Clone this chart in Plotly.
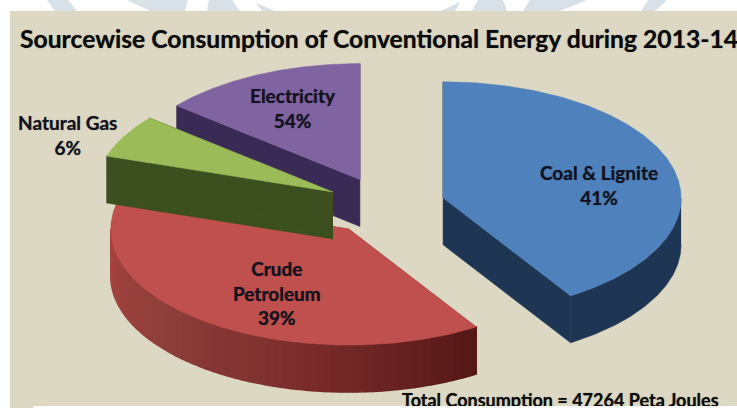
import numpy as np
import plotly.graph_objects as go

# ---------- data ----------
sources = ["Coal & Lignite", "Crude<br>Petroleum", "Natural Gas", "Electricity"]
shares = [41, 39, 6, 14]            # slice sizes
printed_pct = [41, 39, 6, 54]       # percentages printed on the chart
total_text = "Total Consumption = 47264 Peta Joules"
title_text = "Sourcewise Consumption of Conventional Energy during 2013-14"

# ---------- style ----------
W, H = 737, 408
CX, CY, RX, RY, DEPTH = 385.5, 206, 238, 116, 47
PULL = 0.252
top_colors = ["#4F81BD", "#C0504D", "#9BBB59", "#8064A2"]
side_colors = ["#1F3554", "#7A2B2A", "#3C4F1F", "#3A2A56"]
rim_ramps = [None, ("#A8423F", "#8E3F3B", "#7A2C2B", "#551918"), None, None]
label_xy = [(599, 185), (277, 293), (67, 135), (293, 108)]
BG = "#DDD8C3"
DRAW_ORDER = [1, 3, 2, 0]
watermark = [
    [(47, 0), (55, 11), (77, 11), (68, 0)],
    [(127, 0), (150, 11), (185, 11), (188, 0)],
    [(209, 0), (207, 11), (240, 11), (232, 0)],
    [(256, 3), (262, 11), (275, 11)],
    [(460, 2), (441, 11), (455, 11)],
    [(478, 0), (472, 11), (507, 11), (503, 0)],
    [(530, 0), (523, 11), (560, 11), (587, 0)],
    [(648, 0), (641, 11), (655, 11), (667, 0)],
]

fig = go.Figure()


def hex2rgb(h):
    return np.array([int(h[i:i + 2], 16) for i in (1, 3, 5)], float)


def ramp(cols, t):
    seg = min(int(t * (len(cols) - 1)), len(cols) - 2)
    f = t * (len(cols) - 1) - seg
    c = hex2rgb(cols[seg]) * (1 - f) + hex2rgb(cols[seg + 1]) * f
    return "rgb(%d,%d,%d)" % tuple(c)


def poly(x, y, color, lw=0.5):
    fig.add_trace(go.Scatter(x=list(x), y=list(y), mode="lines", fill="toself",
                             fillcolor=color, line=dict(color=color, width=lw),
                             hoverinfo="skip", showlegend=False))


# panel background
poly([10, W, W, 10], [11, 11, H, H], BG, 0)
for p in watermark:
    poly([q[0] for q in p], [q[1] for q in p], "#D8E1E7", 0)

edges = np.concatenate([[0], np.cumsum(shares)]) / sum(shares) * 2 * np.pi
for i in DRAW_ORDER:
    a0, a1 = edges[i], edges[i + 1]
    mid = (a0 + a1) / 2
    cx = CX + PULL * RX * np.sin(mid)
    cy = CY - PULL * RY * np.cos(mid)
    th = np.linspace(a0, a1, 160)
    ex = cx + RX * np.sin(th)
    ey = cy - RY * np.cos(th)
    # radial faces
    for a in (a0, a1):
        px, py = cx + RX * np.sin(a), cy - RY * np.cos(a)
        poly([cx, px, px, cx], [cy, py, py + DEPTH, cy + DEPTH], side_colors[i])
    # outer rim, front half only
    lo, hi = max(a0, np.pi / 2), min(a1, 3 * np.pi / 2)
    if hi > lo:
        if rim_ramps[i]:
            n = 60
            ts = np.linspace(hi, lo, n + 1)
            for k in range(n):
                t = np.linspace(ts[k], ts[k + 1], 5)
                rx, ry = cx + RX * np.sin(t), cy - RY * np.cos(t)
                c = ramp(rim_ramps[i], k / (n - 1))
                poly(list(rx) + list(rx[::-1]), list(ry) + list(ry[::-1] + DEPTH), c, 1.5)
        else:
            t = np.linspace(lo, hi, 100)
            rx, ry = cx + RX * np.sin(t), cy - RY * np.cos(t)
            poly(list(rx) + list(rx[::-1]), list(ry) + list(ry[::-1] + DEPTH), side_colors[i])
    # top face
    poly([cx, *ex, cx], [cy, *ey, cy], top_colors[i])

# footer text, then the white strip of the page that cuts it
SHADOW = "0 0 1px rgba(0,0,0,0.55)"
fig.add_trace(go.Scatter(x=[402], y=[402], mode="text", text=[f"<b>{total_text}</b>"], textposition="middle right",
                         textfont=dict(family="Lato", size=18, color="#0A0A0A", shadow=SHADOW),
                         hoverinfo="skip", showlegend=False))
poly([33, W, W, 33], [406, 406, H, H], "#FFFFFF", 0)

ann = []
FONT = "Lato"
for name, pct, (x, y) in zip(sources, printed_pct, label_xy):
    ann.append(dict(x=x, y=y, xref="x", yref="y", text=f"<b>{name}<br>{pct}%</b>", showarrow=False,
                    font=dict(family=FONT, size=19, color="#12121F", shadow=SHADOW), align="center"))
ann.append(dict(x=18, y=38, xref="x", yref="y", text=f"<b>{title_text}</b>", showarrow=False, xanchor="left",
                font=dict(family=FONT, size=24.7, color="#0A0A0A", shadow=SHADOW)))

fig.update_layout(width=W, height=H, margin=dict(l=0, r=0, t=0, b=0), autosize=False,
                  paper_bgcolor="white", plot_bgcolor="white", annotations=ann, showlegend=False,
                  xaxis=dict(range=[0, W], visible=False, fixedrange=True),
                  yaxis=dict(range=[H, 0], visible=False, fixedrange=True))
fig.write_html("out.html", config=dict(displayModeBar=False),
               post_script="document.body.style.margin='0';document.documentElement.style.overflow='hidden';")
